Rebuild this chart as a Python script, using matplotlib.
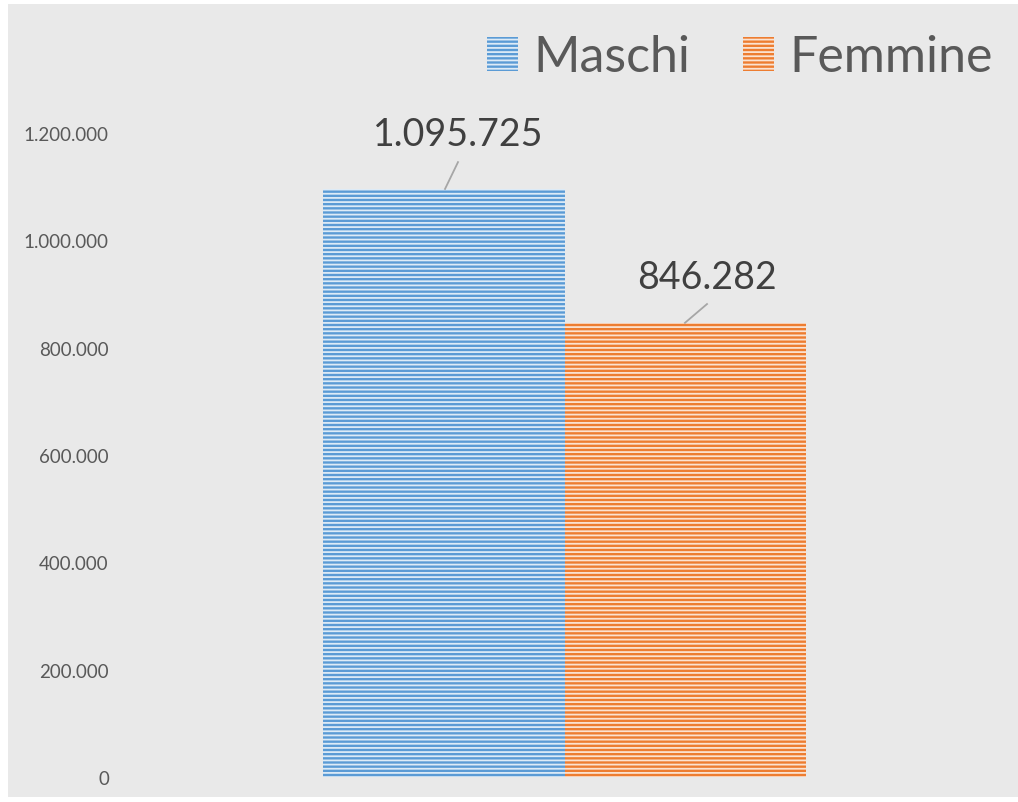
import matplotlib
matplotlib.use("Agg")
import matplotlib.pyplot as plt
import matplotlib.patches as patches
from matplotlib.ticker import FuncFormatter

# data
categories = ["Maschi", "Femmine"]
values = [1095725, 846282]
colors = ["#5B9BD5", "#ED7D31"]
stripe_colors = ["#DDEBF7", "#FBE3D2"]
y_ticks = [0, 200000, 400000, 600000, 800000, 1000000, 1200000]


def fmt_it(v):
    return "{:,.0f}".format(v).replace(",", ".")


plt.rcParams['font.family'] = ['Lato', 'DejaVu Sans']
plt.rcParams['hatch.linewidth'] = 1.3

fig = plt.figure(figsize=(10.18, 8.03), dpi=100)
fig.patch.set_facecolor("white")
# gray chart area
bg = patches.Rectangle((8 / 1018, 5 / 803), 1 - 8 / 1018, 1 - 10 / 803,
                       transform=fig.transFigure, facecolor="#E9E9E9",
                       edgecolor="none", zorder=-10)
fig.patches.append(bg)

ax = fig.add_axes([120 / 1018, 25 / 803, 889 / 1018, 644 / 803])
ax.set_facecolor("none")

width = 0.272
offsets = [-width / 2, width / 2]
for i, (cat, val) in enumerate(zip(categories, values)):
    ax.bar(offsets[i], val, width=width, color=colors[i],
           edgecolor=stripe_colors[i], linewidth=0, hatch="----",
           label=cat, zorder=2)

ax.set_xlim(-0.5, 0.5)
ax.set_ylim(0, 1200000)
ax.set_yticks(y_ticks)
ax.yaxis.set_major_formatter(FuncFormatter(lambda v, p: fmt_it(v)))
ax.set_xticks([])
ax.tick_params(axis="y", length=0, pad=8, labelsize=13.5, labelcolor="#595959")
for s in ax.spines.values():
    s.set_visible(False)

# data labels with leader lines (offsets from bar center / top)
label_dx = [0.016, 0.024]
label_dy = [102000, 85000]
line_dx = [(0.0016, 0.0162), (-0.0005, 0.0243)]
line_dy = [50000, 35000]
for i, val in enumerate(values):
    x0 = offsets[i]
    ax.plot([x0 + line_dx[i][0], x0 + line_dx[i][1]], [val, val + line_dy[i]],
            color="#A6A6A6", lw=1.3, zorder=3, clip_on=False)
    ax.text(x0 + label_dx[i], val + label_dy[i], fmt_it(val), ha="center",
            va="center", fontsize=27, color="#404040", clip_on=False)

fig.legend(loc="upper right", bbox_to_anchor=(1.019, 1.012), ncol=2,
           frameon=False, fontsize=36, handlelength=0.62,
           handleheight=0.66, handletextpad=0.3, columnspacing=1.05,
           labelcolor="#595959")

fig.savefig("out.png", dpi=100)
